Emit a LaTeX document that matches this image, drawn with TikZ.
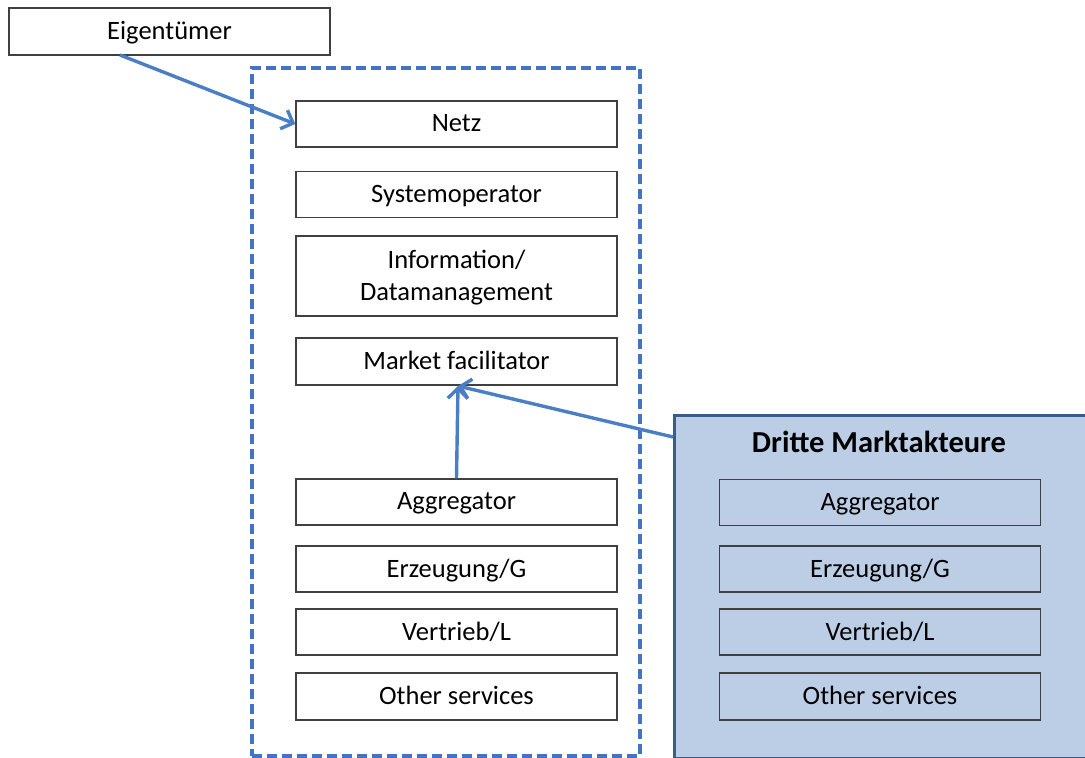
\documentclass[tikz,border=0pt]{standalone}
\usepackage{fontspec}
\setmainfont{Carlito}
\usetikzlibrary{arrows.meta}
\definecolor{dashblue}{RGB}{68,114,196}
\definecolor{arrowblue}{RGB}{74,126,197}
\definecolor{panelfill}{RGB}{187,206,229}
\definecolor{paneldraw}{RGB}{56,93,138}
\tikzset{
  box/.style={draw=black!75, line width=1.3pt, fill=white, minimum width=321pt, minimum height=46pt, inner sep=0pt, font=\fontsize{26.5}{32}\selectfont, align=center, text depth=2pt},
  pbox/.style={box, fill=panelfill},
  conn/.style={draw=arrowblue, line width=3.4pt, -{Straight Barb[length=10pt,width=20pt,line width=3.4pt]}},
}
\begin{document}
\begin{tikzpicture}[x=1pt,y=-1pt]
\useasboundingbox (0,0) rectangle (1085,758);
\clip (0,0) rectangle (1085,758);
% dashed frame
\node[draw=dashblue, dash pattern=on 10pt off 5pt, line width=3.4pt, minimum width=388pt, minimum height=688pt, inner sep=0pt] (frame) at (446,412) {};
% right panel
\node[draw=paneldraw, fill=panelfill, line width=3pt, minimum width=430pt, minimum height=343pt, inner sep=0pt, anchor=north west] (panel) at (673,414) {};
\node[font=\bfseries\fontsize{30.5}{34}\selectfont] (ptitle) at (879,442) {Dritte Marktakteure};
% owner
\node[box, minimum width=321pt, minimum height=47pt] (owner) at (169.5,31.5) {Eigentümer};
% left column
\node[box] (netz) at (456.5,124) {Netz};
\node[box] (sysop) at (456.5,194.5) {Systemoperator};
\node[box, minimum height=80pt] (info) at (456.5,276) {Information/\\Datamanagement};
\node[box, minimum height=47pt] (market) at (456.5,361.5) {Market facilitator};
\node[box] (aggL) at (456.5,502) {Aggregator};
\node[box] (erzL) at (456.5,569) {Erzeugung/G};
\node[box] (vertL) at (456.5,632) {Vertrieb/L};
\node[box, minimum height=47pt] (otherL) at (456.5,696.5) {Other services};
% right column
\node[pbox] (aggR) at (880,502.5) {Aggregator};
\node[pbox] (erzR) at (880,569) {Erzeugung/G};
\node[pbox] (vertR) at (880,632) {Vertrieb/L};
\node[pbox, minimum height=47pt] (otherR) at (880,696.5) {Other services};
% connectors
\coordinate (ownerOut) at (120,55);
\coordinate (panelOut) at (673,437);
\coordinate (mfIn) at (458,386);
\draw[conn] (ownerOut) -- (netz.west);
\draw[conn] (aggL.north) -- (mfIn);
\draw[conn] (panelOut) -- (mfIn);
\end{tikzpicture}
\end{document}
